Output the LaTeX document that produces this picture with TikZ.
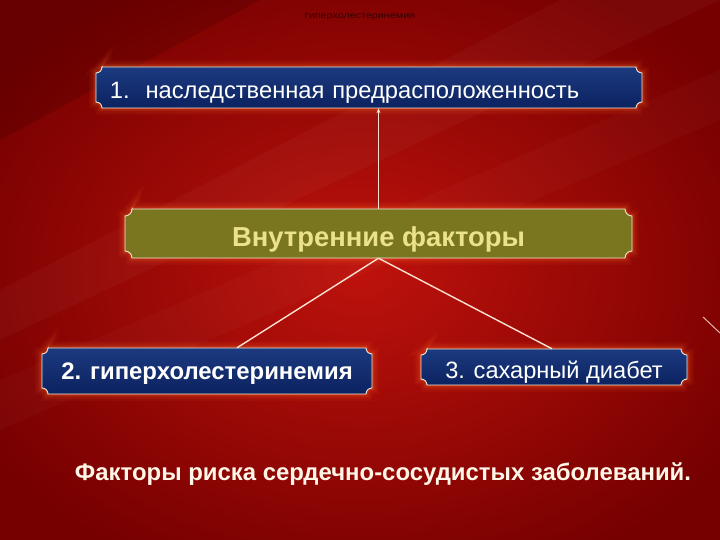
\documentclass[tikz,border=0pt]{standalone}
\usepackage{fontspec}
\setmainfont{Liberation Sans}
\usetikzlibrary{arrows.meta,calc}
\definecolor{bgin}{RGB}{190,18,12}
\definecolor{bgout}{RGB}{118,0,0}
\definecolor{navytop}{RGB}{28,58,128}
\definecolor{navybot}{RGB}{12,34,96}
\definecolor{olive}{RGB}{122,118,32}
\definecolor{olivetext}{RGB}{236,226,140}
\definecolor{rim}{RGB}{240,228,208}
\definecolor{glow}{RGB}{255,110,40}
\definecolor{conncol}{RGB}{250,226,210}
\definecolor{tinytext}{RGB}{40,0,0}
\newcommand\plaque[5]{(#1+#5,#4) -- (#3-#5,#4) arc[start angle=180,end angle=270,radius=#5bp] -- (#3,#2+#5) arc[start angle=90,end angle=180,radius=#5bp] -- (#1+#5,#2) arc[start angle=0,end angle=90,radius=#5bp] -- (#1,#4-#5) arc[start angle=270,end angle=360,radius=#5bp] -- cycle}
\newcommand\lowertext[2]{\raisebox{-#1bp}[\height][\depth]{#2}}
\tikzset{
  box/.style={inner sep=0pt, draw=none},
  conn/.style={draw=conncol, line width=1.4bp},
  rimline/.style={draw=rim, line width=0.9bp},
}
\begin{document}
\begin{tikzpicture}[x=1bp,y=1bp]
\useasboundingbox (0,0) rectangle (720,540);
% background
\shade[inner color=bgin, outer color=bgout] (-80,-60) rectangle (800,600);
\fill[white, opacity=0.03] (720,540) -- (560,540) -- (0,250) -- (0,200) -- cycle;
\fill[white, opacity=0.025] (720,470) -- (720,420) -- (0,110) -- (0,160) -- cycle;
\fill[black, opacity=0.12] (0,540) -- (260,540) -- (0,400) -- cycle;
\draw[conncol, line width=1bp, opacity=0.8] (703,223) -- (720,207);
% tiny header text
\node[font=\fontsize{9}{10}\selectfont, text=tinytext, opacity=0.85, xscale=1.2] (hdr) at (360,523) {гиперхолестеринемия};
% glows
\foreach \w/\o in {14/0.06, 10/0.08, 6/0.12, 3/0.18}{
  \draw[glow, line width=\w bp, opacity=\o] \plaque{96}{432}{642}{473}{6};
  \draw[glow, line width=\w bp, opacity=\o] \plaque{125}{282}{632}{331}{7};
  \draw[glow, line width=\w bp, opacity=\o] \plaque{42}{146}{372}{192}{6};
  \draw[glow, line width=\w bp, opacity=\o] \plaque{421}{155}{687}{191}{6};
}
% plaques
\shade[top color=navytop, bottom color=navybot] \plaque{96}{432}{642}{473}{6};
\draw[rimline] \plaque{96}{432}{642}{473}{6};
\fill[olive] \plaque{125}{282}{632}{331}{7};
\draw[rimline] \plaque{125}{282}{632}{331}{7};
\shade[top color=navytop, bottom color=navybot] \plaque{42}{146}{372}{192}{6};
\draw[rimline] \plaque{42}{146}{372}{192}{6};
\shade[top color=navytop, bottom color=navybot] \plaque{421}{155}{687}{191}{6};
\draw[rimline] \plaque{421}{155}{687}{191}{6};
% nodes
\node[box, minimum width=546bp, minimum height=41bp, text width=518bp, inner xsep=14bp, align=left,
      font=\fontsize{23.8}{25}\selectfont, text=white] (n1) at (369,452.5) {\lowertext{5}{1.\ \ наследственная предрасположенность}};
\node[box, minimum width=507bp, minimum height=49bp, font=\fontsize{27.5}{29}\selectfont\bfseries, text=olivetext] (mid) at (378.5,306.5) {\lowertext{6}{Внутренние факторы}};
\node[box, minimum width=330bp, minimum height=46bp, font=\fontsize{24}{26}\selectfont\bfseries, text=white] (n2) at (207,169) {\lowertext{3}{2. гиперхолестеринемия}};
\node[box, minimum width=266bp, minimum height=36bp, font=\fontsize{23.7}{25}\selectfont, text=white] (n3) at (554,173) {\lowertext{5}{3. сахарный диабет}};
\node[font=\fontsize{24}{26}\selectfont\bfseries, text={rgb,255:red,255;green,246;blue,232}] (cap) at (383,66) {Факторы риска сердечно-сосудистых заболеваний.};
% connectors
\draw[conn, -{Stealth[length=5bp,width=4bp]}] (mid.north) -- (mid.north |- n1.south);
\draw[conn] (mid.south) -- ([xshift=30bp]n2.north);
\draw[conn] (mid.south) -- ([xshift=-2bp]n3.north);
\end{tikzpicture}
\end{document}
